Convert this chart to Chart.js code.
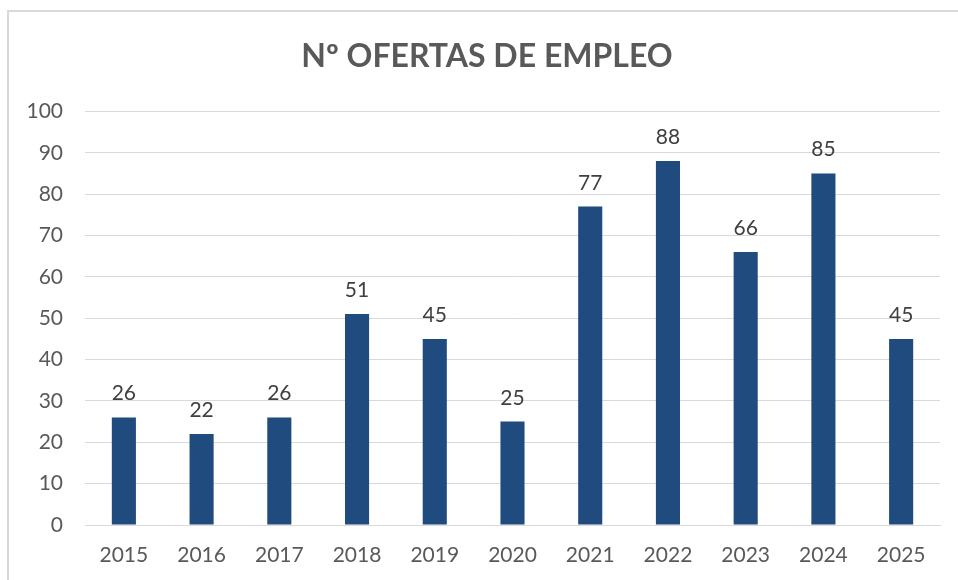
<!DOCTYPE html>
<html>
<head>
<meta charset="utf-8">
<script src="https://cdn.jsdelivr.net/npm/chart.js@4/dist/chart.umd.min.js"></script>
<style>
  html, body { margin: 0; padding: 0; background: #fff; }
  #wrap { position: relative; width: 958px; height: 580px; overflow: hidden; }
  #frame { position: absolute; left: 7px; top: 10px; width: 980px; height: 600px;
           border-left: 2px solid #d9d9d9; border-top: 2px solid #d9d9d9; box-sizing: border-box; }
  canvas { position: absolute; left: 0; top: 0; }
</style>
</head>
<body>
<div id="wrap">
  <div id="frame"></div>
  <canvas id="c" width="958" height="580"></canvas>
</div>
<script>
const title = "Nº OFERTAS DE EMPLEO";
const categories = ["2015","2016","2017","2018","2019","2020","2021","2022","2023","2024","2025"];
const offers = [26, 22, 26, 51, 45, 25, 77, 88, 66, 85, 45];
const yTicks = [0, 10, 20, 30, 40, 50, 60, 70, 80, 90, 100];

const FONT = "Lato, 'Open Sans', sans-serif";

const valueLabels = {
  id: 'valueLabels',
  afterDatasetsDraw(chart) {
    const ctx = chart.ctx;
    const meta = chart.getDatasetMeta(0);
    ctx.save();
    ctx.font = "21px " + FONT;
    ctx.fillStyle = "#404040";
    ctx.textAlign = "center";
    ctx.textBaseline = "alphabetic";
    meta.data.forEach((bar, i) => {
      ctx.fillText(String(chart.data.datasets[0].data[i]), bar.x, bar.y - 17);
    });
    ctx.restore();
  }
};

new Chart(document.getElementById('c'), {
  type: 'bar',
  data: {
    labels: categories,
    datasets: [{
      data: offers,
      backgroundColor: '#1f4b7f',
      borderWidth: 0,
      categoryPercentage: 1,
      barPercentage: 0.31
    }]
  },
  options: {
    responsive: false,
    animation: false,
    devicePixelRatio: 1,
    layout: { padding: { top: 20, right: 18, bottom: 0, left: 34 } },
    plugins: {
      legend: { display: false },
      tooltip: { enabled: false },
      title: {
        display: true,
        text: title,
        color: '#595959',
        font: { family: FONT, size: 32, weight: 'bold' },
        padding: { top: 17, bottom: 36 }
      }
    },
    scales: {
      x: {
        afterFit(scale) { scale.height = 55; },
        grid: { display: false, drawTicks: false },
        border: { display: true, color: '#d9d9d9', width: 1 },
        ticks: { color: '#595959', font: { family: FONT, size: 21 }, padding: 18 }
      },
      y: {
        min: 0, max: 100,
        afterFit(scale) {
          scale.width = 51;
          scale._computeLabelArea = () => null;
        },
        afterBuildTicks(scale) { scale.ticks = yTicks.map(v => ({ value: v })); },
        grid: { color: '#d9d9d9', lineWidth: 1, drawTicks: false },
        border: { display: false },
        ticks: { color: '#595959', font: { family: FONT, size: 21 }, padding: 22 }
      }
    }
  },
  plugins: [valueLabels]
});
</script>
</body>
</html>
